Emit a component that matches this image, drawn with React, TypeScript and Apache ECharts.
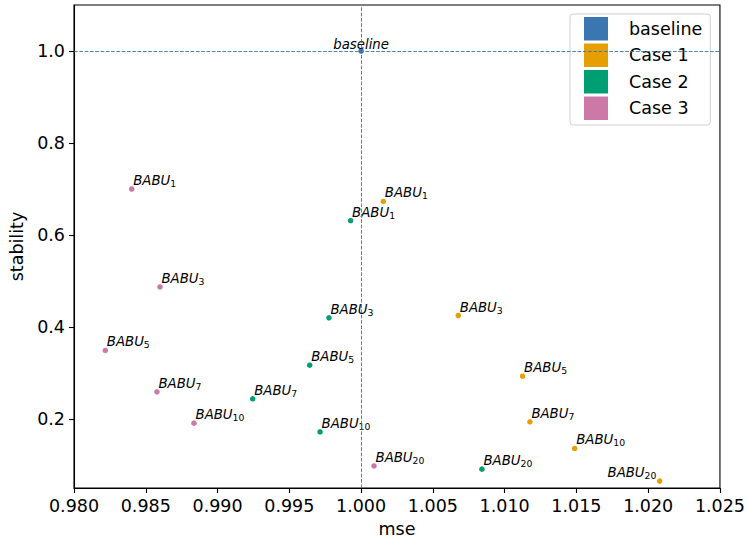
import React, { useEffect, useRef } from "react";
import * as echarts from "echarts";

// Subscript index of each BABU variant, shared by all three cases
const babuIndex = [1, 3, 5, 7, 10, 20];

const case1Mse = [1.00155, 1.00677, 1.01125, 1.01176, 1.01488, 1.0208];
const case1Stability = [0.673, 0.425, 0.293, 0.194, 0.136, 0.065];

const case2Mse = [0.99927, 0.99776, 0.99642, 0.99245, 0.99714, 1.00842];
const case2Stability = [0.631, 0.42, 0.317, 0.244, 0.172, 0.091];

const case3Mse = [0.98402, 0.98599, 0.98218, 0.98578, 0.98836, 1.0009];
const case3Stability = [0.7, 0.487, 0.349, 0.259, 0.191, 0.098];

const baselineMse = 1.0;
const baselineStability = 1.0;

const xTicks = [0.98, 0.985, 0.99, 0.995, 1.0, 1.005, 1.01, 1.015, 1.02, 1.025];
const yTicks = [0.2, 0.4, 0.6, 0.8, 1.0];

const COLORS = {
  baseline: "#3a76af",
  case1: "#e69f00",
  case2: "#009e73",
  case3: "#cc79a7",
};

const FONT = "DejaVu Sans";
const SYMBOL = 5.5;

const richLabel = {
  b: {
    fontFamily: FONT,
    fontStyle: "italic",
    fontSize: 13.3,
    lineHeight: 14,
    color: "#000",
    verticalAlign: "top",
  },
  s: {
    fontFamily: FONT,
    fontSize: 9.3,
    color: "#000",
    verticalAlign: "bottom",
  },
};

function makePoints(mse: number[], stab: number[], rightAligned: number[] = []) {
  return mse.map((x, i) => {
    const right = rightAligned.includes(i);
    return {
      value: [x, stab[i]],
      label: {
        show: true,
        formatter: `{b|BABU}{s|${babuIndex[i]}}`,
        position: right ? [-0.5, SYMBOL / 2 - 1] : [SYMBOL / 2 + 1.5, SYMBOL / 2 - 1],
        align: right ? "right" : "left",
        verticalAlign: "bottom",
        rich: richLabel,
      },
    };
  });
}

export default function App() {
  const ref = useRef<HTMLDivElement>(null);

  useEffect(() => {
    if (!ref.current) return;
    const chart = echarts.init(ref.current, null, { renderer: "svg" });

    const axisText = { fontFamily: FONT, fontSize: 17.5, color: "#000" };

    chart.setOption({
      animation: false,
      backgroundColor: "#fff",
      grid: {
        left: 74,
        right: 28,
        top: 5,
        bottom: 57,
        show: true,
        borderColor: "#000",
        borderWidth: 1.1,
        backgroundColor: "transparent",
      },
      xAxis: {
        type: "value",
        min: 0.98,
        max: 1.025,
        interval: 0.005,
        name: "mse",
        nameLocation: "middle",
        nameGap: 25,
        nameTextStyle: axisText,
        axisLine: { show: true, onZero: false, lineStyle: { color: "#000", width: 1.1 } },
        axisTick: { show: true, length: 5, lineStyle: { color: "#000", width: 1.1 }, customValues: xTicks },
        axisLabel: {
          ...axisText,
          margin: 9,
          customValues: xTicks,
          formatter: (v: number) => v.toFixed(3),
        },
        splitLine: { show: false },
      },
      yAxis: {
        type: "value",
        min: 0.05,
        max: 1.1,
        name: "stability",
        nameLocation: "middle",
        nameGap: 48,
        nameTextStyle: axisText,
        axisLine: { show: true, onZero: false, lineStyle: { color: "#000", width: 1.1 } },
        axisTick: { show: true, length: 5, lineStyle: { color: "#000", width: 1.1 }, customValues: yTicks },
        axisLabel: {
          ...axisText,
          margin: 9,
          customValues: yTicks,
          formatter: (v: number) => v.toFixed(1),
        },
        splitLine: { show: false },
      },
      legend: {
        orient: "vertical",
        left: 570,
        top: 14,
        padding: [3, 8, 5, 14],
        itemWidth: 24,
        itemHeight: 23.5,
        itemGap: 3,
        icon: "rect",
        selectedMode: false,
        backgroundColor: "rgba(255,255,255,0.8)",
        borderColor: "#d0d0d0",
        borderWidth: 1,
        borderRadius: 3,
        textStyle: { ...axisText, padding: [0, 0, 0, 16] },
        data: ["baseline", "Case 1", "Case 2", "Case 3"],
      },
      series: [
        {
          name: "baseline",
          type: "scatter",
          symbolSize: SYMBOL,
          itemStyle: { color: COLORS.baseline, opacity: 1 },
          data: [
            {
              value: [baselineMse, baselineStability],
              label: {
                show: true,
                formatter: "baseline",
                position: [SYMBOL / 2, SYMBOL / 2 + 1],
                align: "center",
                verticalAlign: "bottom",
                fontFamily: FONT,
                fontStyle: "italic",
                fontSize: 13.3,
                lineHeight: 15,
                color: "#000",
              },
            },
          ],
          markLine: {
            silent: true,
            symbol: "none",
            label: { show: false },
            lineStyle: { color: COLORS.baseline, type: [3.7, 1.6], width: 1, opacity: 0.9 },
            data: [{ xAxis: baselineMse }, { yAxis: baselineStability }],
          },
        },
        {
          name: "Case 1",
          type: "scatter",
          symbolSize: SYMBOL,
          itemStyle: { color: COLORS.case1, opacity: 1 },
          data: makePoints(case1Mse, case1Stability, [5]),
        },
        {
          name: "Case 2",
          type: "scatter",
          symbolSize: SYMBOL,
          itemStyle: { color: COLORS.case2, opacity: 1 },
          data: makePoints(case2Mse, case2Stability),
        },
        {
          name: "Case 3",
          type: "scatter",
          symbolSize: SYMBOL,
          itemStyle: { color: COLORS.case3, opacity: 1 },
          data: makePoints(case3Mse, case3Stability),
        },
      ],
    });

    return () => chart.dispose();
  }, []);

  return (
    <div
      ref={ref}
      style={{ position: "fixed", left: 0, top: 0, width: 748, height: 545 }}
    />
  );
}
